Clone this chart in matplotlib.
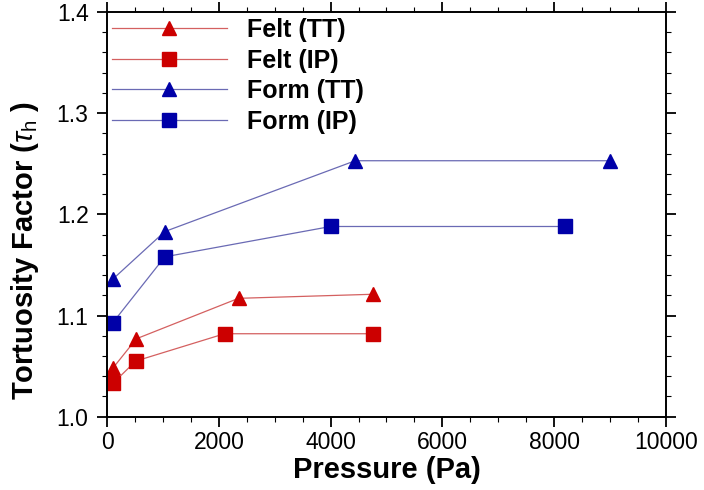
import matplotlib
matplotlib.use("Agg")
import matplotlib.pyplot as plt
from matplotlib.ticker import MultipleLocator

plt.rcParams['font.family'] = ['Liberation Sans', 'DejaVu Sans']
plt.rcParams['mathtext.fontset'] = 'custom'
plt.rcParams['mathtext.rm'] = 'Liberation Sans'
plt.rcParams['mathtext.it'] = 'Liberation Sans:italic'

felt_tt_x = [100, 520, 2350, 4750]
felt_tt_y = [1.048, 1.077, 1.117, 1.121]
felt_ip_x = [100, 510, 2100, 4750]
felt_ip_y = [1.033, 1.055, 1.082, 1.082]
form_tt_x = [100, 1030, 4440, 9000]
form_tt_y = [1.136, 1.183, 1.253, 1.253]
form_ip_x = [100, 1030, 4000, 8200]
form_ip_y = [1.093, 1.158, 1.188, 1.188]

red = '#cc0000'
blue = '#0000a8'
red_line = '#d46060'
blue_line = '#6a6ab4'

fig = plt.figure(figsize=(7.04, 4.90), dpi=100)
ax = fig.add_axes([0.1524, 0.1496, 0.9456 - 0.1524, 0.9755 - 0.1496])

series = [
    (felt_tt_x, felt_tt_y, '^', red, red_line, 'Felt (TT)', 10.5),
    (felt_ip_x, felt_ip_y, 's', red, red_line, 'Felt (IP)', 9.5),
    (form_tt_x, form_tt_y, '^', blue, blue_line, 'Form (TT)', 10.5),
    (form_ip_x, form_ip_y, 's', blue, blue_line, 'Form (IP)', 9.5),
]
for x, y, m, c, lc, lab, ms in series:
    ax.plot(x, y, color=lc, lw=0.9, marker=m, markersize=ms,
            markerfacecolor=c, markeredgecolor=c, label=lab)

ax.set_xlim(0, 10000)
ax.set_ylim(1.0, 1.4)
ax.xaxis.set_major_locator(MultipleLocator(2000))
ax.xaxis.set_minor_locator(MultipleLocator(500))
ax.yaxis.set_major_locator(MultipleLocator(0.1))
ax.yaxis.set_minor_locator(MultipleLocator(0.02))
ax.yaxis.set_major_formatter(plt.FuncFormatter(lambda v, p: f'{v:.1f}'))

ax.tick_params(which='major', direction='out', length=7.5, width=1.3,
               labelsize=16.5, top=True, right=True)
ax.tick_params(axis='y', which='major', pad=6)
ax.tick_params(axis='x', which='major', pad=3)
ax.tick_params(which='minor', direction='out', length=3.8, width=0.8,
               top=True, right=True)
for s in ax.spines.values():
    s.set_linewidth(1.4)

ax.set_xlabel('Pressure (Pa)', fontsize=21, fontweight='bold', labelpad=1)
ax.set_ylabel(r'Tortuosity Factor ($\tau_{\rm h}$ )', fontsize=21,
              fontweight='bold')
ax.yaxis.set_label_coords(-0.118, 0.41)

leg = ax.legend(loc='upper left', bbox_to_anchor=(0.0084, 0.985), frameon=False,
                handlelength=4.6, handletextpad=0.8, labelspacing=0.26,
                borderpad=0.0, borderaxespad=0.0,
                prop={'weight': 'bold', 'size': 18})

fig.savefig('out.png', dpi=100)
